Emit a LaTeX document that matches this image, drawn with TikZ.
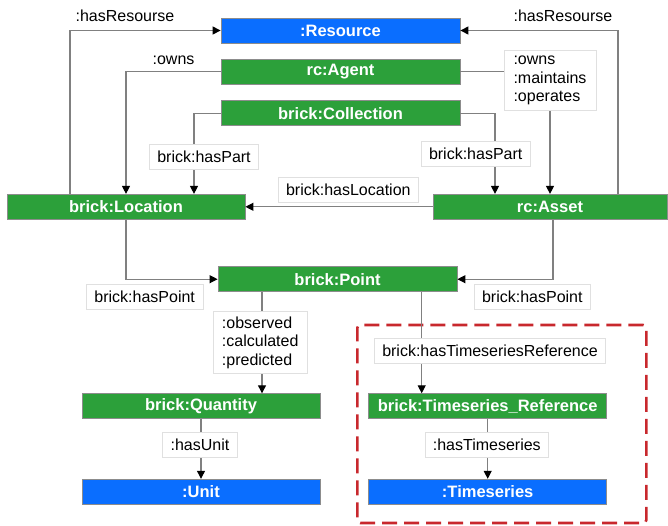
\documentclass[tikz,border=0pt]{standalone}
\usepackage{fontspec}
\setmainfont{Liberation Sans}
\usepackage{tikz}
\usetikzlibrary{positioning,calc,arrows.meta}
\definecolor{brickgreen}{RGB}{44,160,58}
\definecolor{resblue}{RGB}{10,110,255}
\definecolor{grpred}{RGB}{200,40,45}
\definecolor{linkgray}{RGB}{128,128,128}

\begin{document}
\begin{tikzpicture}[x=1pt,y=-1pt,
    font=\fontsize{16}{18.5}\selectfont,
    cls/.style={rectangle,draw=black!45,line width=0.8pt,minimum height=25pt,
                inner sep=0pt,text=white,font=\fontsize{16.5}{18.5}\selectfont\bfseries},
    green node/.style={cls,fill=brickgreen},
    blue node/.style={cls,fill=resblue},
    lbl/.style={rectangle,fill=white,draw=black!12,line width=0.6pt,
                inner xsep=8pt,minimum height=25pt,align=left},
    plain lbl/.style={inner sep=0pt},
    link/.style={draw=linkgray,line width=1.1pt,-{Triangle[width=8pt,length=8pt,color=black]}},
    tsgroup/.style={rectangle,draw=grpred,line width=2.6pt,rounded corners=3pt,
                dash pattern=on 15pt off 7pt}]
\useasboundingbox (0,0) rectangle (668,525);

%Group
    \node[tsgroup, minimum width=289pt, minimum height=198pt] (grp) at (501.8,424) {};

%Nodes
    \node[blue node, minimum width=239pt] (res) at (340.5,30.5) {:Resource};
    \node[green node, minimum width=239pt] (agent) at (340.5,71.7) {rc:Agent};
    \node[green node, minimum width=239pt] (coll) at (340.5,113.2) {brick:Collection};
    \node[green node, minimum width=238pt] (loc) at (126,206.8) {brick:Location};
    \node[green node, minimum width=234pt] (asset) at (550,206.8) {rc:Asset};
    \node[green node, minimum width=239pt] (point) at (337.5,279.2) {brick:Point};
    \node[green node, minimum width=238pt] (qty) at (201,406.2) {brick:Quantity};
    \node[blue node, minimum width=238pt] (unit) at (201,491.7) {:Unit};
    \node[green node, minimum width=238pt] (tsref) at (487.7,406.2) {brick:Timeseries\_Reference};
    \node[blue node, minimum width=238pt] (ts) at (487.7,491.7) {:Timeseries};

%Links
    \path[link] ([xshift=-56pt]loc.north) |- (res.west);
    \path[link] ([xshift=68pt]asset.north) |- (res.east);
    \path[link] (agent.west) -| (loc.north);
    \path[link] (agent.east) -| (asset.north);
    \path[link] (coll.west) -| ([xshift=68pt]loc.north);
    \path[link] (coll.east) -| ([xshift=-55pt]asset.north);
    \path[link] (asset.west) -- (loc.east);
    \path[link] (loc.south) |- (point.west);
    \path[link] ([xshift=3pt]asset.south) |- (point.east);
    \path[link] ([xshift=-75.5pt]point.south) -- ([xshift=61pt]qty.north);
    \path[link] ([xshift=84.2pt]point.south) -- ([xshift=-66pt]tsref.north);
    \path[link] (qty.south) -- (unit.north);
    \path[link] (tsref.south) -- (ts.north);

%Labels
    \node[plain lbl] (hasResL) at (125,16) {:hasResourse};
    \node[plain lbl] (hasResR) at (563,16) {:hasResourse};
    \node[plain lbl] (ownsL) at (173.5,60) {:owns};
    \node[lbl, inner xsep=9.5pt, inner ysep=5.5pt] (ownsR) at (550,80.5) {:owns\\:maintains\\:operates};
    \node[lbl] (partL) at (204,156.3) {brick:hasPart};
    \node[lbl] (partR) at (475.7,154.2) {brick:hasPart};
    \node[lbl] (hasLoc) at (348.3,190.2) {brick:hasLocation};
    \node[lbl] (pointL) at (144.7,297) {brick:hasPoint};
    \node[lbl] (pointR) at (532.3,297) {brick:hasPoint};
    \node[lbl, inner xsep=9pt, inner ysep=5pt] (obs) at (260.2,342.5) {:observed\\:calculated\\:predicted};
    \node[lbl] (hasTsRef) at (490,351.2) {brick:hasTimeseriesReference};
    \node[lbl] (hasUnit) at (200,444.8) {:hasUnit};
    \node[lbl] (hasTs) at (486.8,444.8) {:hasTimeseries};
\end{tikzpicture}
\end{document}
